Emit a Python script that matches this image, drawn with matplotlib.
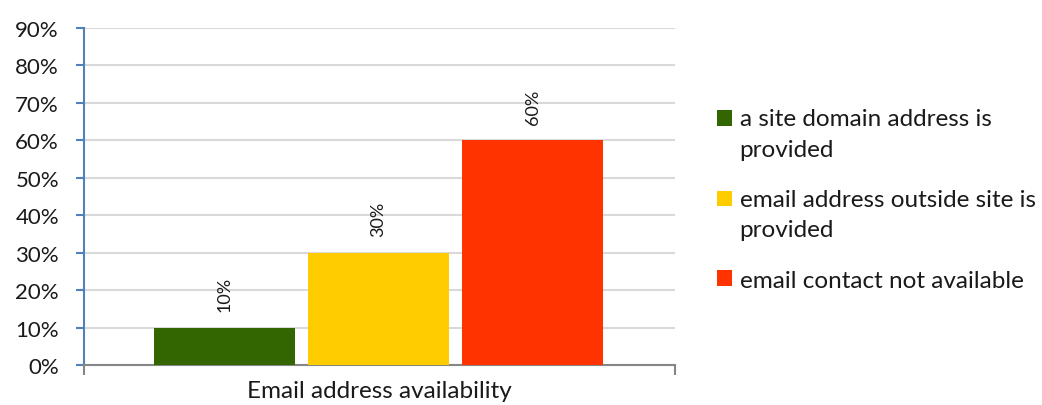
import matplotlib
matplotlib.use("Agg")
import matplotlib.pyplot as plt
from matplotlib.patches import Rectangle
from matplotlib.container import BarContainer
from matplotlib.legend_handler import HandlerPatch, update_from_first_child
from matplotlib.ticker import PercentFormatter

plt.rcParams['font.family'] = ['Lato', 'DejaVu Sans']

# data
categories = ["a site domain address is\nprovided",
              "email address outside site is\nprovided",
              "email contact not available"]
values = [10, 30, 60]
colors = ["#336600", "#FFCC00", "#FF3300"]
y_ticks = [0, 10, 20, 30, 40, 50, 60, 70, 80, 90]
x_label = "Email address availability"

LEG_FS = 17.5
LEG_LS = 1.56
LINE_STEP = 1.316  # one text line, in units of fontsize


def square_first_line(legend, orig_handle, xdescent, ydescent, width, height, fontsize):
    # put the square next to the first text line (excel style)
    nlines = orig_handle.get_label().count("\n") + 1
    shift = (nlines - 1) * fontsize * LINE_STEP / 2.0
    return Rectangle((-xdescent, -ydescent + shift), width, height)


fig = plt.figure(figsize=(10.42, 4.06), dpi=100)
ax = fig.add_axes([0.0806, 0.0985, 0.5672, 0.8301])

xs = [0, 1, 2]
for x, v, c, lab in zip(xs, values, colors, categories):
    ax.bar(x, v, width=0.916, color=c, label=lab, zorder=3)
    ax.annotate("%d%%" % v, (x, v), xytext=(0, 12), textcoords="offset points",
                rotation=90, ha="center", va="bottom", fontsize=13, color="#1a1a1a")

ax.set_xlim(-0.912, 2.925)
ax.set_ylim(0, 90)
ax.set_yticks(y_ticks)
ax.yaxis.set_major_formatter(PercentFormatter(decimals=0))
ax.grid(axis="y", color="#D9D9D9", linewidth=1.5, zorder=0)
ax.set_axisbelow(True)

for s in ["top", "right"]:
    ax.spines[s].set_visible(False)
ax.spines["left"].set_color("#4F81BD")
ax.spines["left"].set_linewidth(1.5)
ax.spines["bottom"].set_color("#868686")
ax.spines["bottom"].set_linewidth(1.5)

ax.tick_params(axis="y", colors="#4F81BD", length=6, width=1.5, labelsize=16,
               labelcolor="#1a1a1a", pad=12)
ax.set_xticks([-0.912, 2.925])
ax.set_xticklabels(["", ""])
ax.tick_params(axis="x", colors="#868686", length=7, width=1.5)
ax.set_xlabel(x_label, fontsize=17.5, color="#1a1a1a", labelpad=0)

handler = HandlerPatch(patch_func=square_first_line, update_func=update_from_first_child)
leg = fig.legend(loc="upper left", bbox_to_anchor=(0.679, 0.755), frameon=False,
                 fontsize=LEG_FS, handlelength=0.62, handleheight=0.62,
                 handletextpad=0.3, labelspacing=1.2, borderaxespad=0,
                 handler_map={BarContainer: handler})
for t in leg.get_texts():
    t.set_linespacing(LEG_LS)
    t.set_color("#1a1a1a")

fig.savefig("out.png", dpi=100)
